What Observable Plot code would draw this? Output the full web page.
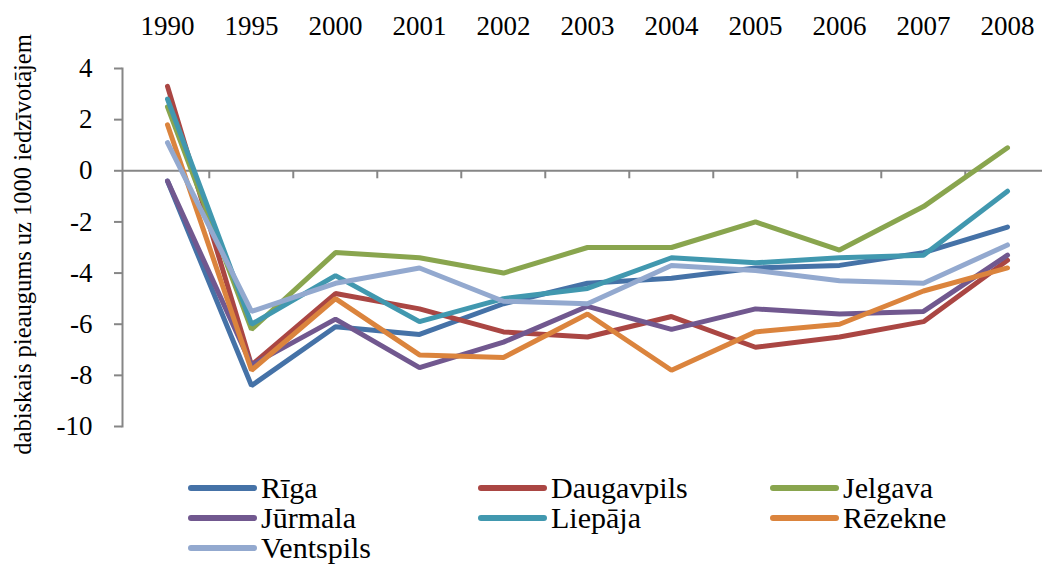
<!DOCTYPE html>
<html>
<head>
<meta charset="utf-8">
<script src="https://cdn.jsdelivr.net/npm/d3@7"></script>
<script src="https://cdn.jsdelivr.net/npm/@observablehq/plot@0.6"></script>
<style>
  html, body { margin: 0; padding: 0; background: #fff; }
  body { width: 1042px; height: 565px; overflow: hidden; font-family: "Liberation Serif", "DejaVu Serif", serif; }
  #chart svg { display: block; }
  #legend { display: grid; grid-template-columns: 290px 292px 200px; margin: 3px 0 0 188px; }
  .item { display: flex; align-items: center; height: 30px; font-size: 30px; line-height: 30px; color: #000; white-space: nowrap; }
  .sw { width: 69px; height: 6px; border-radius: 3px; margin-right: 4px; flex: none; }
</style>
</head>
<body>
<div id="chart"></div>
<div id="legend"></div>
<script>
const years = ["1990","1995","2000","2001","2002","2003","2004","2005","2006","2007","2008"];
const cities = ["Rīga","Daugavpils","Jelgava","Jūrmala","Liepāja","Rēzekne","Ventspils"];
const colors = ["#4572A7","#AA4643","#89A54E","#71588F","#4198AF","#DB843D","#93A9CF"];
const riga       = [-0.4, -8.4, -6.1, -6.4, -5.2, -4.4, -4.2, -3.8, -3.7, -3.2, -2.2];
const daugavpils = [ 3.3, -7.6, -4.8, -5.4, -6.3, -6.5, -5.7, -6.9, -6.5, -5.9, -3.5];
const jelgava    = [ 2.5, -6.2, -3.2, -3.4, -4.0, -3.0, -3.0, -2.0, -3.1, -1.4,  0.9];
const jurmala    = [-0.4, -7.6, -5.8, -7.7, -6.7, -5.3, -6.2, -5.4, -5.6, -5.5, -3.3];
const liepaja    = [ 2.8, -6.0, -4.1, -5.9, -5.0, -4.6, -3.4, -3.6, -3.4, -3.3, -0.8];
const rezekne    = [ 1.8, -7.8, -5.0, -7.2, -7.3, -5.6, -7.8, -6.3, -6.0, -4.7, -3.8];
const ventspils  = [ 1.1, -5.5, -4.4, -3.8, -5.1, -5.2, -3.7, -3.9, -4.3, -4.4, -2.9];
const yTicks = [-10, -8, -6, -4, -2, 0, 2, 4];
const yTitle = "dabiskais pieaugums uz 1000 iedzīvotājem";

const series = [riga, daugavpils, jelgava, jurmala, liepaja, rezekne, ventspils];
const data = [];
series.forEach((vals, i) => vals.forEach((v, j) => data.push({city: cities[i], year: years[j], value: v})));

const W = 1042, H = 470, mL = 122, mT = 68, mB = 44;
const xRange = [mL, 1051];
const step = (xRange[1] - xRange[0]) / years.length;
const gray = "#868686";
const serif = "'Liberation Serif', 'DejaVu Serif', serif";

const chart = Plot.plot({
  width: W, height: H,
  marginLeft: mL, marginRight: 0, marginTop: mT, marginBottom: mB,
  style: {fontFamily: serif, background: "#fff", color: "#000"},
  x: {type: "point", domain: years, range: xRange, padding: 0.5, axis: null},
  y: {domain: [-10, 4], axis: null},
  color: {domain: cities, range: colors},
  marks: [
    Plot.frame({anchor: "left", stroke: gray, strokeWidth: 2}),
    Plot.axisY({ticks: yTicks, tickSize: 8, tickPadding: 22, stroke: gray, strokeWidth: 2, fill: "#000", fontSize: 27, tickFormat: d => String(d), label: null}),
    Plot.axisX({anchor: "top", tickSize: 0, tickPadding: 34, fill: "#000", fontSize: 27, label: null}),
    Plot.ruleY([0], {stroke: gray, strokeWidth: 2}),
    Plot.ruleX(years.slice(1), {x: d => d, y1: 0, y2: 0, insetBottom: -8, dx: -step / 2, stroke: gray, strokeWidth: 2}),
    Plot.line(data, {x: "year", y: "value", z: "city", stroke: "city", strokeWidth: 5, strokeLinecap: "round", strokeLinejoin: "miter"}),
    Plot.text([yTitle], {frameAnchor: "left", textAnchor: "middle", rotate: -90, dx: -99, dy: -3, fontSize: 24.5, fill: "#000"})
  ]
});
document.getElementById("chart").appendChild(chart);

const legend = document.getElementById("legend");
cities.forEach((c, i) => {
  const it = document.createElement("div");
  it.className = "item";
  const sw = document.createElement("span");
  sw.className = "sw";
  sw.style.background = colors[i];
  const tx = document.createElement("span");
  tx.textContent = c;
  it.appendChild(sw); it.appendChild(tx);
  legend.appendChild(it);
});
</script>
</body>
</html>
